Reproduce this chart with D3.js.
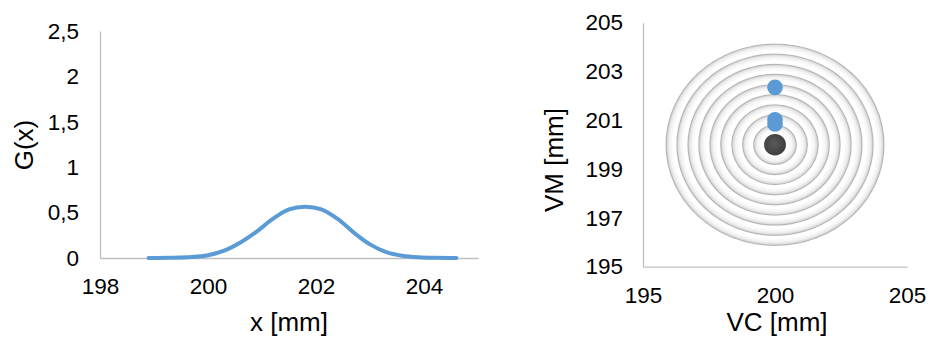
<!DOCTYPE html>
<html>
<head>
<meta charset="utf-8">
<script src="https://cdn.jsdelivr.net/npm/d3@7/dist/d3.min.js"></script>
<style>
  html, body { margin: 0; padding: 0; background: #ffffff; }
  svg { display: block; font-family: "Liberation Sans", Arial, sans-serif; }
</style>
</head>
<body>
<svg id="chart" width="930" height="338"></svg>
<script>
// ---- Density curve G(x) ----
const gaussX = [198.9, 199.3, 199.7, 200.0, 200.3, 200.6, 200.9, 201.2, 201.5, 201.8,
                202.1, 202.4, 202.7, 203.0, 203.3, 203.6, 203.9, 204.2, 204.6];
const gaussY = [0, 0.002, 0.01, 0.03, 0.08, 0.17, 0.29, 0.43, 0.535, 0.565,
                0.535, 0.43, 0.28, 0.15, 0.065, 0.025, 0.008, 0.002, 0];
const gTicksX = [198, 200, 202, 204];
const gTicksY = [0, 0.5, 1, 1.5, 2, 2.5];
const gTickLabelsY = ["0", "0,5", "1", "1,5", "2", "2,5"];

// ---- Target plot VC / VM ----
const targetCenter = [200, 200];
const ringRadii = [0.42, 0.83, 1.25, 1.66, 2.08, 2.49, 2.91, 3.32, 3.74, 4.15];
const shotsVC = [200, 200, 200];
const shotsVM = [202.35, 201.02, 200.85];
const tTicksX = [195, 200, 205];
const tTicksY = [195, 197, 199, 201, 203, 205];

const svg = d3.select("#chart");
const axisGrey = "#bfbfbf";
const blue = "#5b9bd5";

function styleAxis(g) {
  g.select(".domain").attr("stroke", axisGrey).attr("stroke-width", 1.3);
  g.selectAll(".tick line").remove();
  g.selectAll(".tick text").attr("fill", "#000").style("font-size", "22.5px")
    .style("font-family", "'Liberation Sans', Arial, sans-serif");
}

// ===== Left chart =====
const xL = d3.scaleLinear().domain([198, 205]).range([100, 478]);
const yL = d3.scaleLinear().domain([0, 2.5]).range([258, 31]);

svg.append("g").attr("transform", `translate(0,${yL(0)})`)
  .call(d3.axisBottom(xL).tickValues(gTicksX).tickSize(0).tickPadding(20).tickFormat(d3.format("d")))
  .call(styleAxis);

svg.append("g").attr("transform", `translate(${xL(198)},0)`)
  .call(d3.axisLeft(yL).tickValues(gTicksY).tickSize(0).tickPadding(21)
    .tickFormat((d, i) => gTickLabelsY[i]))
  .call(styleAxis);

const line = d3.line()
  .x((d, i) => xL(gaussX[i]))
  .y(d => yL(d))
  .curve(d3.curveCatmullRom.alpha(0.5));

svg.append("path")
  .datum(gaussY)
  .attr("d", line)
  .attr("fill", "none")
  .attr("stroke", blue)
  .attr("stroke-width", 4)
  .attr("stroke-linecap", "round")
  .attr("stroke-linejoin", "round");

svg.append("text")
  .attr("x", (xL(198) + xL(205)) / 2).attr("y", 331)
  .attr("text-anchor", "middle").style("font-size", "26px").attr("fill", "#000")
  .text("x [mm]");

svg.append("text")
  .attr("transform", "translate(33,145) rotate(-90)")
  .attr("text-anchor", "middle").style("font-size", "26px").attr("fill", "#000")
  .text("G(x)");

// ===== Right chart =====
const xR = d3.scaleLinear().domain([195, 205]).range([643, 907]);
const yR = d3.scaleLinear().domain([195, 205]).range([266.7, 22.7]);

// ring shading: thin grey rim fading inward to white
const defs = svg.append("defs");
const rings = ringRadii.slice().reverse();
rings.forEach((r, i) => {
  const rx = xR(targetCenter[0] + r) - xR(targetCenter[0]);
  const w = 1 / rx; // one pixel as a fraction of the radius
  const grad = defs.append("radialGradient").attr("id", "ring" + i)
    .attr("cx", "50%").attr("cy", "50%").attr("r", "50%");
  const stops = [
    [0, "#ffffff"],
    [Math.max(0, 1 - 8 * w), "#ffffff"],
    [Math.max(0, 1 - 4 * w), "#f1f1f1"],
    [Math.max(0, 1 - 2 * w), "#dedede"],
    [Math.max(0, 1 - 0.8 * w), "#b4b4b4"],
    [1, "#c4c4c4"]
  ];
  stops.forEach(s => grad.append("stop").attr("offset", s[0]).attr("stop-color", s[1]));
});

const shade = defs.append("filter").attr("id", "soft").attr("x", "-10%").attr("y", "-10%")
  .attr("width", "120%").attr("height", "120%");
shade.append("feGaussianBlur").attr("stdDeviation", 0.45);

const ringG = svg.append("g").attr("filter", "url(#soft)");
ringG.selectAll("ellipse").data(rings).join("ellipse")
  .attr("cx", xR(targetCenter[0]))
  .attr("cy", yR(targetCenter[1]))
  .attr("rx", r => xR(targetCenter[0] + r) - xR(targetCenter[0]))
  .attr("ry", r => yR(targetCenter[1]) - yR(targetCenter[1] + r))
  .attr("fill", (r, i) => `url(#ring${i})`);

svg.append("g").attr("transform", `translate(0,${yR(195)})`)
  .call(d3.axisBottom(xR).tickValues(tTicksX).tickSize(0).tickPadding(20).tickFormat(d3.format("d")))
  .call(styleAxis);

svg.append("g").attr("transform", `translate(${xR(195)},0)`)
  .call(d3.axisLeft(yR).tickValues(tTicksY).tickSize(0).tickPadding(20).tickFormat(d3.format("d")))
  .call(styleAxis);

// bull's-eye centre marker
const dark = defs.append("radialGradient").attr("id", "darkDot").attr("cx", "45%").attr("cy", "45%").attr("r", "60%");
dark.append("stop").attr("offset", 0).attr("stop-color", "#5a5a5a");
dark.append("stop").attr("offset", 1).attr("stop-color", "#3c3c3c");

svg.append("circle")
  .attr("cx", xR(targetCenter[0])).attr("cy", yR(targetCenter[1]))
  .attr("r", 10.8).attr("fill", "url(#darkDot)");

svg.append("g").selectAll("circle").data(shotsVM).join("circle")
  .attr("cx", (d, i) => xR(shotsVC[i]))
  .attr("cy", d => yR(d))
  .attr("r", 7.8)
  .attr("fill", blue);

svg.append("text")
  .attr("x", (xR(195) + xR(205)) / 2 + 2).attr("y", 331)
  .attr("text-anchor", "middle").style("font-size", "26px").attr("fill", "#000")
  .text("VC [mm]");

svg.append("text")
  .attr("transform", "translate(563,160) rotate(-90)")
  .attr("text-anchor", "middle").style("font-size", "26px").attr("fill", "#000")
  .text("VM [mm]");
</script>
</body>
</html>
